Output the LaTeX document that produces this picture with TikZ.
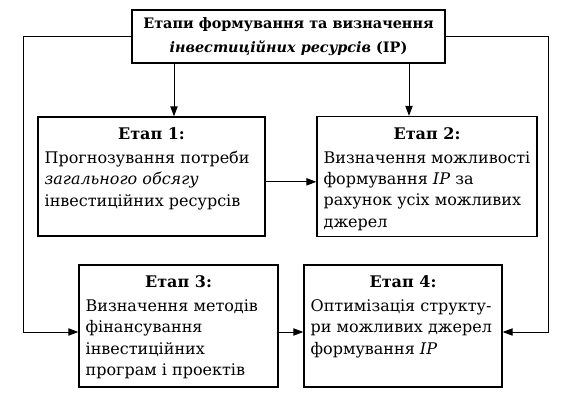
\documentclass[tikz,border=0pt]{standalone}
\usepackage{fontspec}
\setmainfont{DejaVu Serif}
\usetikzlibrary{arrows.meta}

\tikzset{
  box/.style={draw, line width=1pt, inner xsep=5pt, inner ysep=8pt, anchor=center},
  conn/.style={line width=0.7pt, -{Triangle[length=7.5pt,width=5.5pt]}}
}
\newcommand{\stagetext}[4]{\parbox[c][#2][t]{#1}{\centering\textbf{#3}\par\vspace{2pt}\raggedright #4}}

\begin{document}
\begin{tikzpicture}[x=0.75pt, y=-0.75pt, font=\fontsize{12}{16}\selectfont]
    \useasboundingbox (0,0) rectangle (574,406);

    % Draw the boxes
    \node[box, minimum width=234.75pt, minimum height=39.75pt, align=center, inner ysep=3pt,
          font=\fontsize{10.8}{17.5}\selectfont] (top) at (288.5,36.5)
      {\bfseries Етапи формування та визначення\\ \bfseries\itshape інвестиційних ресурсів \upshape(ІР)};
    \node[box, minimum width=170.25pt, minimum height=89.25pt] (s1) at (151.5,176.5)
      {\stagetext{160.25pt}{73.25pt}{Етап 1:}{Прогнозування потреби\\ \textit{загального обсягу}\\ інвестиційних ресурсів}};
    \node[box, minimum width=165pt, minimum height=90pt] (s2) at (427,176.5)
      {\stagetext{155pt}{74pt}{Етап 2:}{Визначення можливості\\ формування \textit{ІР} за\\ рахунок усіх можливих\\ джерел}};
    \node[box, minimum width=149.25pt, minimum height=91.5pt] (s3) at (178.5,326)
      {\stagetext{139.25pt}{75.5pt}{Етап 3:}{Визначення методів\\ фінансування\\ інвестиційних\\ програм і проектів}};
    \node[box, minimum width=148.5pt, minimum height=91.5pt] (s4) at (403,326)
      {\stagetext{138.5pt}{75.5pt}{Етап 4:}{Оптимізація структу-\\ри можливих джерел\\ формування \textit{ІР}}};

    % Points for the connectors
    \coordinate (c1) at (174,0);
    \coordinate (c2) at (409,0);
    \coordinate (left) at (23,332);
    \coordinate (right) at (548,332);

    % Draw the arrows
    \draw[conn] (top.south -| c1) -- (s1.north -| c1);
    \draw[conn] (top.south -| c2) -- (s2.north -| c2);
    \draw[conn] ([yshift=-4pt]s1.east) -- ([yshift=-4pt]s2.west);
    \draw[conn] ([yshift=-4.5pt]s3.east) -- ([yshift=-4.5pt]s4.west);
    \draw[conn] (top.west) -| (left) -- ([yshift=-4.5pt]s3.west);
    \draw[conn] (top.east) -| (right) -- ([yshift=-4.5pt]s4.east);
\end{tikzpicture}
\end{document}
